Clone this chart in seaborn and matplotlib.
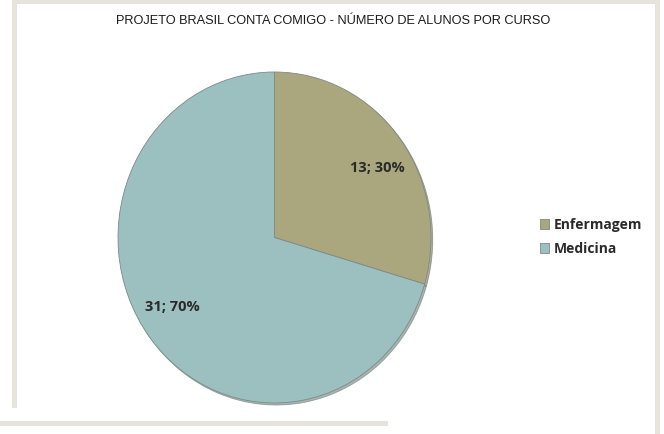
import matplotlib
matplotlib.use("Agg")
import numpy as np
import matplotlib.pyplot as plt
import seaborn as sns
from matplotlib.patches import Rectangle

# data
cursos = ["Enfermagem", "Medicina"]
alunos = [13, 31]
cores = ["#aaa77f", "#9cbfbf"]
titulo = "PROJETO BRASIL CONTA COMIGO - NÚMERO DE ALUNOS POR CURSO"

sns.set_theme(style="white")
plt.rcParams["font.family"] = ["Open Sans", "DejaVu Sans"]

W, H = 664, 434
fig = plt.figure(figsize=(W / 100, H / 100), dpi=100)
fig.patch.set_facecolor("white")


def px_rect(x0, y0, x1, y1, color="#e5e3db"):
    # rectangle in pixel coords (origin top-left)
    fig.patches.append(Rectangle((x0 / W, 1 - y1 / H), (x1 - x0) / W, (y1 - y0) / H,
                                 transform=fig.transFigure, color=color, lw=0, zorder=0))


# frame around the chart
px_rect(12, 0, 17, 408)
px_rect(12, 0, 660, 4)
px_rect(655, 0, 660, 434)
px_rect(0, 421, 388, 426)

fig.text(333 / W, 1 - 21 / H, titulo, ha="center", va="center", fontsize=9.2,
         family=["Liberation Sans Narrow", "Liberation Sans", "DejaVu Sans"], color="#1a1a1a")

ax = fig.add_axes([118 / W, 1 - 403 / H, 313 / W, 331 / H])
total = sum(alunos)


def rotulo(p):
    n = int(round(p * total / 100))
    return f"{n}; {p:.0f}%"


wedges, texts, autotexts = ax.pie(
    alunos, colors=sns.color_palette(cores), startangle=90, counterclock=False,
    autopct=rotulo, pctdistance=0.78,
    wedgeprops=dict(edgecolor="#7d8a84", linewidth=0.6),
    textprops=dict(fontsize=10.5, fontweight="bold", color="#2a2a2a"),
    shadow=dict(ox=0.008, oy=-0.009, shade=0.45),
)
# Excel places the labels a little clockwise of the slice centre
for w, t in zip(wedges, autotexts):
    ang = np.deg2rad((w.theta1 + w.theta2) / 2 - 4)
    t.set_position((0.78 * np.cos(ang), 0.78 * np.sin(ang)))

ax.set_aspect("auto")
ax.set_xlim(-1.0, 1.0)
ax.set_ylim(-1.0, 1.0)
ax.axis("off")

leg = fig.legend(wedges, cursos, loc="center left", bbox_to_anchor=(527 / W, 1 - 237 / H),
                 frameon=False, handlelength=0.7, handleheight=0.7, handletextpad=0.35,
                 labelspacing=0.75, prop=dict(size=10, weight="bold"))
for t in leg.get_texts():
    t.set_color("#2a2a2a")

fig.savefig("out.png", dpi=100, facecolor="white")
